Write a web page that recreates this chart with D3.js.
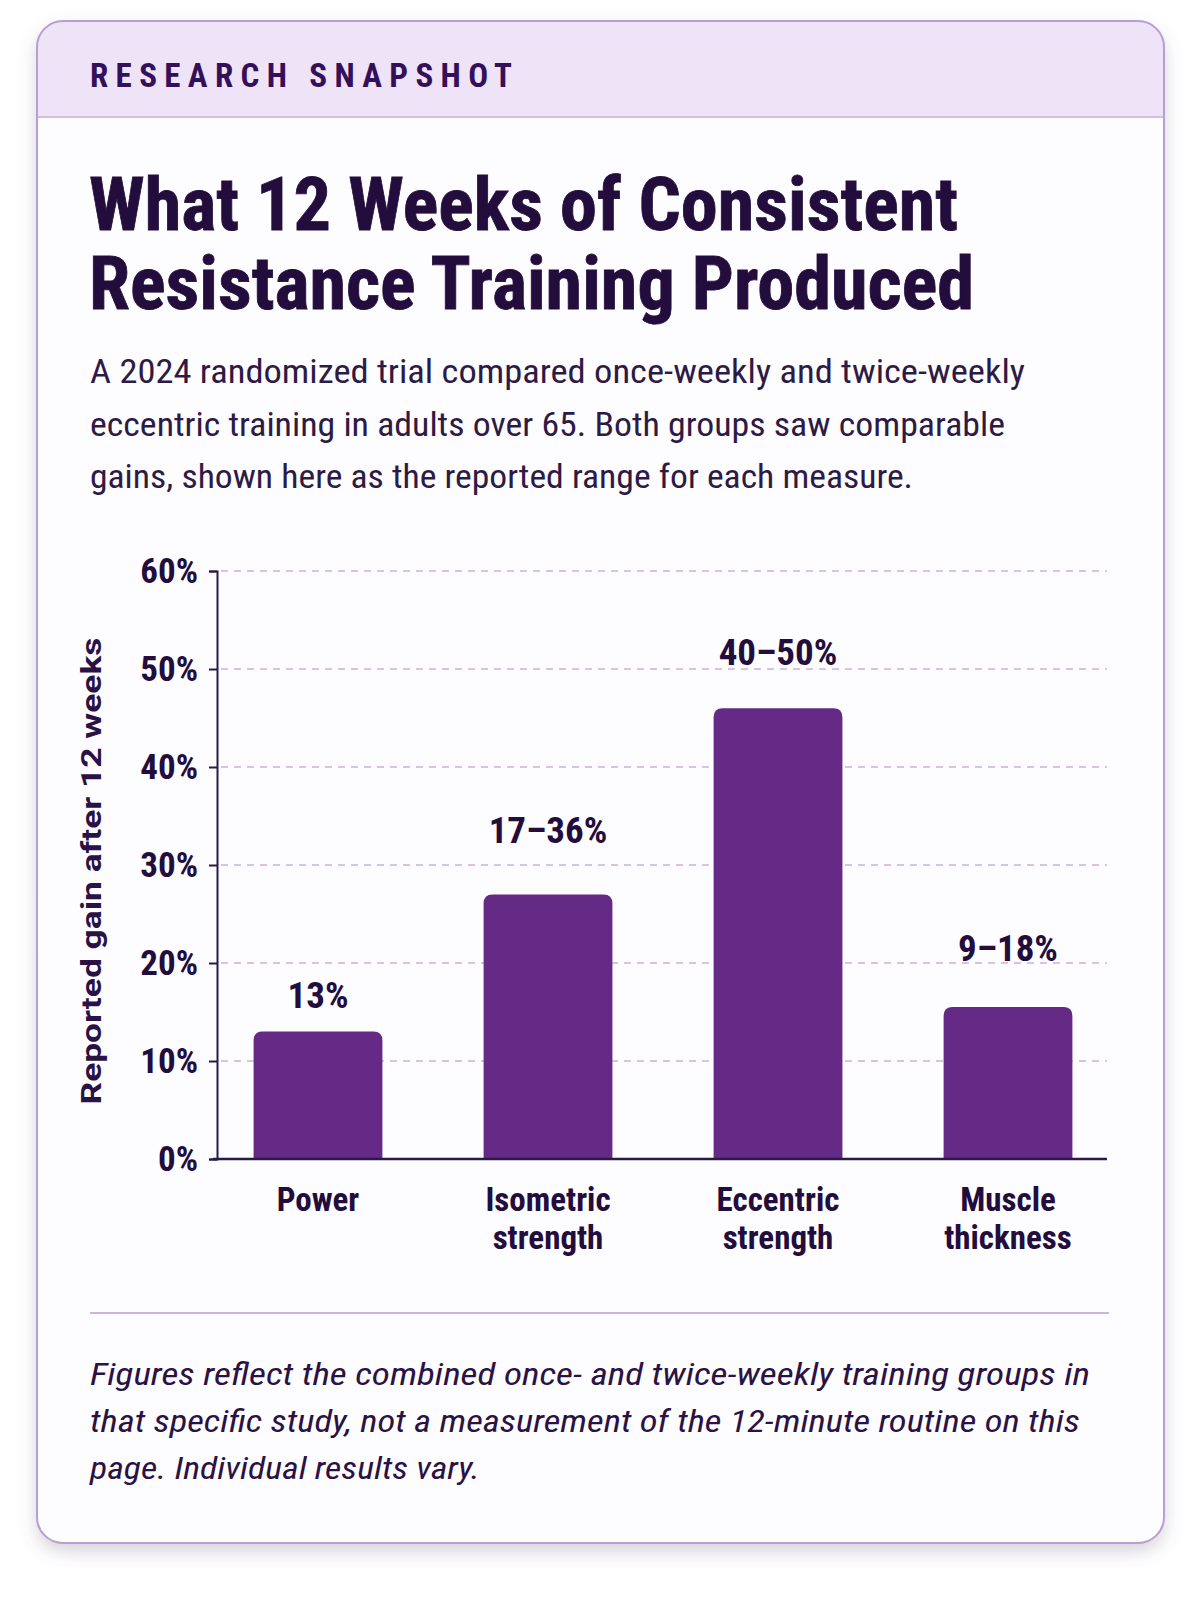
<!DOCTYPE html>
<html>
<head>
<meta charset="utf-8">
<script src="https://cdn.jsdelivr.net/npm/d3@7"></script>
<style>
  html, body { margin: 0; padding: 0; background: #ffffff; }
  svg { display: block; }
</style>
</head>
<body>
<div id="chart"></div>
<script>
// ---- Data ----
const categories = [["Power"], ["Isometric", "strength"], ["Eccentric", "strength"], ["Muscle", "thickness"]];
const values = [13, 27, 46, 15.5];
const valueLabels = ["13%", "17\u201336%", "40\u201350%", "9\u201318%"];
const labelAnchor = [15.4, 32.2, 50.4, 20.2];
const yTicks = [0, 10, 20, 30, 40, 50, 60];
const eyebrow = "RESEARCH SNAPSHOT";
const titleLines = ["What 12 Weeks of Consistent", "Resistance Training Produced"];
const subtitleLines = [
  "A 2024 randomized trial compared once-weekly and twice-weekly",
  "eccentric training in adults over 65. Both groups saw comparable",
  "gains, shown here as the reported range for each measure."
];
const yAxisTitle = "Reported gain after 12 weeks";
const footLines = [
  "Figures reflect the combined once- and twice-weekly training groups in",
  "that specific study, not a measurement of the 12-minute routine on this",
  "page. Individual results vary."
];

// ---- Styles ----
const W = 1200, H = 1600;
const narrow = "'Liberation Sans Narrow', 'Roboto Condensed', 'DejaVu Sans Condensed', Roboto, sans-serif";
const regular = "Roboto, 'Liberation Sans', 'Noto Sans', sans-serif";
const ink = "#230d3d";
const barColor = "#652a86";

const svg = d3.select("#chart").append("svg").attr("width", W).attr("height", H);
const defs = svg.append("defs");
const f = defs.append("filter").attr("id", "shadow").attr("x", "-10%").attr("y", "-10%").attr("width", "120%").attr("height", "120%");
f.append("feDropShadow").attr("dx", 0).attr("dy", 8).attr("stdDeviation", 9).attr("flood-color", "#6a5a78").attr("flood-opacity", 0.28);

const card = {x: 37, y: 21, w: 1127, h: 1522, r: 26};
defs.append("clipPath").attr("id", "cardClip").append("rect")
  .attr("x", card.x).attr("y", card.y).attr("width", card.w).attr("height", card.h).attr("rx", card.r);

svg.append("rect").attr("x", card.x).attr("y", card.y).attr("width", card.w).attr("height", card.h)
  .attr("rx", card.r).attr("fill", "#fdfcfe").attr("filter", "url(#shadow)");
svg.append("rect").attr("clip-path", "url(#cardClip)")
  .attr("x", card.x).attr("y", card.y).attr("width", card.w).attr("height", 96).attr("fill", "#efe4f7");
svg.append("line").attr("x1", card.x).attr("x2", card.x + card.w).attr("y1", 117).attr("y2", 117)
  .attr("stroke", "#d3bfe4").attr("stroke-width", 2);
svg.append("rect").attr("x", card.x).attr("y", card.y).attr("width", card.w).attr("height", card.h)
  .attr("rx", card.r).attr("fill", "none").attr("stroke", "#b89fd2").attr("stroke-width", 2);

function fitText(sel, len, adjust) {
  sel.attr("textLength", len).attr("lengthAdjust", adjust || "spacingAndGlyphs");
}

// Eyebrow
const eb = svg.append("text").attr("x", 90).attr("y", 87).text(eyebrow)
  .attr("font-family", narrow).attr("font-weight", 700).attr("font-size", 33)
  .attr("fill", "#35105a").attr("letter-spacing", 4);
fitText(eb, 426, "spacing");

// Title
const titleLens = [869, 885];
titleLines.forEach((t, i) => {
  const el = svg.append("text").attr("x", 89).attr("y", 230 + i * 79).text(t)
    .attr("font-family", narrow).attr("font-weight", 700).attr("font-size", 74).attr("fill", ink)
    .attr("stroke", ink).attr("stroke-width", 0.8);
  fitText(el, titleLens[i]);
});

// Subtitle
const subLens = [935, 915, 823];
subtitleLines.forEach((t, i) => {
  const el = svg.append("text").attr("x", 90).attr("y", 383 + i * 52.5).text(t)
    .attr("font-family", narrow).attr("font-size", 34).attr("fill", "#2d1a45");
  fitText(el, subLens[i]);
});

// ---- Chart ----
const y = d3.scaleLinear().domain([0, 60]).range([1159, 571]);
const x = d3.scaleBand().domain(d3.range(categories.length)).range([203, 1123])
  .paddingInner(0.44).paddingOuter(0.22);
const axisX = 217, plotRight = 1107;

// gridlines
svg.append("g").selectAll("line").data(yTicks.filter(d => d > 0)).join("line")
  .attr("x1", axisX + 4).attr("x2", plotRight)
  .attr("y1", d => y(d)).attr("y2", d => y(d))
  .attr("stroke", "#d6c3e7").attr("stroke-width", 1.8).attr("stroke-dasharray", "7 6");

// y axis
const yAxis = d3.axisLeft(y).tickValues(yTicks).tickFormat(d => d + "%").tickSize(8).tickPadding(11);
const gy = svg.append("g").attr("transform", `translate(${axisX},0)`).call(yAxis);
gy.select(".domain").attr("stroke", "#2a1a45").attr("stroke-width", 2);
gy.selectAll(".tick line").attr("stroke", "#2a1a45").attr("stroke-width", 2);
gy.selectAll(".tick text").attr("font-family", narrow).attr("font-weight", 700)
  .attr("font-size", 35).attr("fill", ink);

// bars with rounded top corners
function barPath(x0, w, yTop, yBase, r) {
  r = Math.min(r, w / 2, yBase - yTop);
  return `M${x0},${yBase}V${yTop + r}Q${x0},${yTop} ${x0 + r},${yTop}H${x0 + w - r}Q${x0 + w},${yTop} ${x0 + w},${yTop + r}V${yBase}Z`;
}
svg.append("g").selectAll("path").data(values).join("path")
  .attr("d", (d, i) => barPath(x(i), x.bandwidth(), y(d), y(0), 9))
  .attr("fill", barColor);

// x axis baseline
svg.append("line").attr("x1", axisX - 4).attr("x2", plotRight).attr("y1", y(0)).attr("y2", y(0))
  .attr("stroke", "#2a1a45").attr("stroke-width", 2.5);

// value labels
svg.append("g").selectAll("text").data(valueLabels).join("text")
  .attr("x", (d, i) => x(i) + x.bandwidth() / 2).attr("y", (d, i) => y(labelAnchor[i]))
  .attr("text-anchor", "middle").attr("font-family", narrow).attr("font-weight", 700)
  .attr("font-size", 37).attr("fill", ink).text(d => d);

// category labels
const cg = svg.append("g").selectAll("text").data(categories).join("text")
  .attr("x", (d, i) => x(i) + x.bandwidth() / 2).attr("y", 1211)
  .attr("text-anchor", "middle").attr("font-family", narrow).attr("font-weight", 700)
  .attr("font-size", 33).attr("fill", ink);
cg.selectAll("tspan").data((d, i) => d.map(s => ({s, i}))).join("tspan")
  .attr("x", d => x(d.i) + x.bandwidth() / 2).attr("dy", (d, j) => j === 0 ? 0 : 38).text(d => d.s);

// y axis title
const yt = svg.append("text").attr("transform", "translate(101,871) rotate(-90)")
  .attr("text-anchor", "middle").attr("font-family", regular).attr("font-weight", 700)
  .attr("font-size", 27).attr("fill", "#2a1245").text(yAxisTitle);
fitText(yt, 467);

// separator
svg.append("line").attr("x1", 90).attr("x2", 1109).attr("y1", 1313).attr("y2", 1313)
  .attr("stroke", "#cbb5de").attr("stroke-width", 2);

// footnote
const footLens = [1000, 990, 390];
footLines.forEach((t, i) => {
  const el = svg.append("text").attr("x", 90).attr("y", 1385 + i * 47).text(t)
    .attr("font-family", narrow).attr("font-style", "italic").attr("font-size", 32).attr("fill", "#2a1245");
  fitText(el, footLens[i]);
});
</script>
</body>
</html>
